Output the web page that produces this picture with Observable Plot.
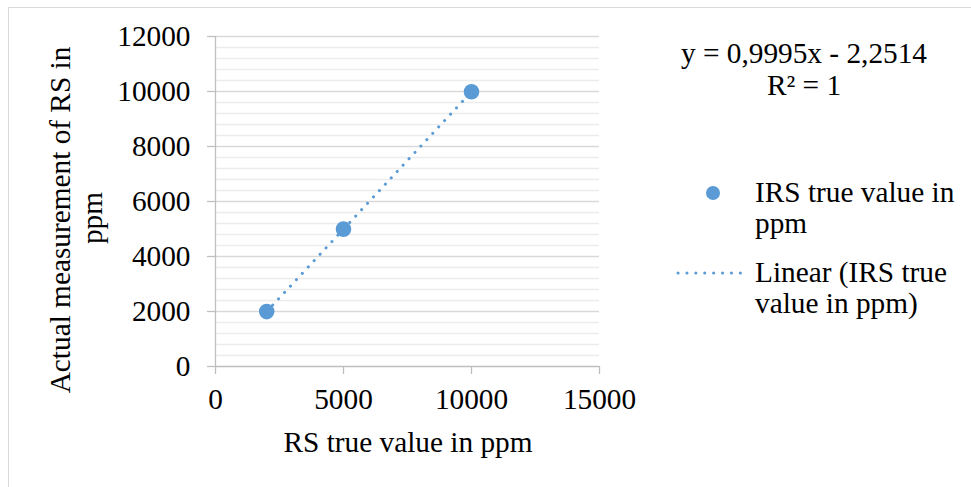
<!DOCTYPE html>
<html>
<head>
<meta charset="utf-8">
<script src="https://cdn.jsdelivr.net/npm/d3@7"></script>
<script src="https://cdn.jsdelivr.net/npm/@observablehq/plot@0.6"></script>
<style>
  html, body { margin: 0; padding: 0; background: #fff; }
  #wrap { position: relative; width: 971px; height: 487px; overflow: hidden; background: #fff; }
  #border { position: absolute; left: 8px; top: 7px; width: 1000px; height: 520px; border: 1.5px solid #d9d9d9; box-sizing: border-box; }
  #chart { position: absolute; left: 0; top: 0; }
</style>
</head>
<body>
<div id="wrap"><div id="border"></div><div id="chart"></div></div>
<script>
// Data
const trueValues = [2000, 5000, 10000];      // RS true value in ppm
const measuredValues = [1997, 4996, 9993];   // Actual measurement of RS in ppm
const xTicks = [0, 5000, 10000, 15000];
const yTicks = [0, 2000, 4000, 6000, 8000, 10000, 12000];
const yMinorTicks = d3.range(0, 12001, 400).filter(v => v % 2000 !== 0);
const seriesName = "IRS true value in ppm";
const equationText = "y = 0,9995x - 2,2514";
const r2Text = "R² = 1";

const data = trueValues.map((x, i) => ({x, y: measuredValues[i]}));
const blue = "#5B9BD5";
const font = "'Liberation Serif', 'Times New Roman', serif";
const fs = 29.3;

const svg = Plot.plot({
  width: 971,
  height: 487,
  marginLeft: 215,
  marginRight: 372,
  marginTop: 36,
  marginBottom: 121,
  style: {fontFamily: font, fontSize: fs + "px", background: "transparent", color: "#000"},
  x: {domain: [0, 15000]},
  y: {domain: [0, 12000]},
  marks: [
    Plot.ruleY(yMinorTicks, {stroke: "#ececec", strokeWidth: 1.3}),
    Plot.ruleY(yTicks.filter(v => v !== 0), {stroke: "#d9d9d9", strokeWidth: 1.3}),
    Plot.ruleY([0], {stroke: "#bfbfbf", strokeWidth: 1.3}),
    Plot.ruleX([0], {stroke: "#bfbfbf", strokeWidth: 1.3}),
    Plot.axisY({ticks: yTicks, tickSize: 8, tickPadding: 17, stroke: "#bfbfbf", strokeWidth: 1.3, fill: "#000",
      tickFormat: d => String(d), label: null}),
    Plot.axisX({ticks: xTicks, tickSize: 8, tickPadding: 14, stroke: "#bfbfbf", strokeWidth: 1.3, fill: "#000",
      tickFormat: d => String(d), label: null}),
    Plot.linearRegressionY(data, {x: "x", y: "y", ci: 0, stroke: blue, strokeWidth: 3,
      strokeDasharray: "0.1 8.6", strokeLinecap: "round"}),
    Plot.dot(data, {x: "x", y: "y", r: 7.8, fill: blue, stroke: "none"})
  ]
});

document.getElementById("chart").appendChild(svg);

const s = d3.select(svg);
const txt = (x, y, t, anchor = "start") =>
  s.append("text").attr("x", x).attr("y", y).attr("text-anchor", anchor)
   .attr("font-family", font).attr("font-size", fs).attr("fill", "#000").text(t);

// Axis titles
txt(408, 452, "RS true value in ppm", "middle");
s.append("text").attr("transform", "translate(70,220) rotate(-90)").attr("text-anchor", "middle")
  .attr("font-family", font).attr("font-size", fs).attr("fill", "#000").text("Actual measurement of RS in");
s.append("text").attr("transform", "translate(102,218) rotate(-90)").attr("text-anchor", "middle")
  .attr("font-family", font).attr("font-size", fs).attr("fill", "#000").text("ppm");

// Trendline equation
txt(804, 63, equationText, "middle");
txt(804, 95, r2Text, "middle");

// Legend
s.append("circle").attr("cx", 713).attr("cy", 193).attr("r", 7).attr("fill", blue);
txt(755, 202, "IRS true value in");
txt(755, 233, "ppm");
s.append("line").attr("x1", 678).attr("x2", 742).attr("y1", 273).attr("y2", 273)
  .attr("stroke", blue).attr("stroke-width", 3).attr("stroke-dasharray", "0.1 8.8").attr("stroke-linecap", "round");
txt(755, 282, "Linear (IRS true");
txt(755, 313, "value in ppm)");
</script>
</body>
</html>
